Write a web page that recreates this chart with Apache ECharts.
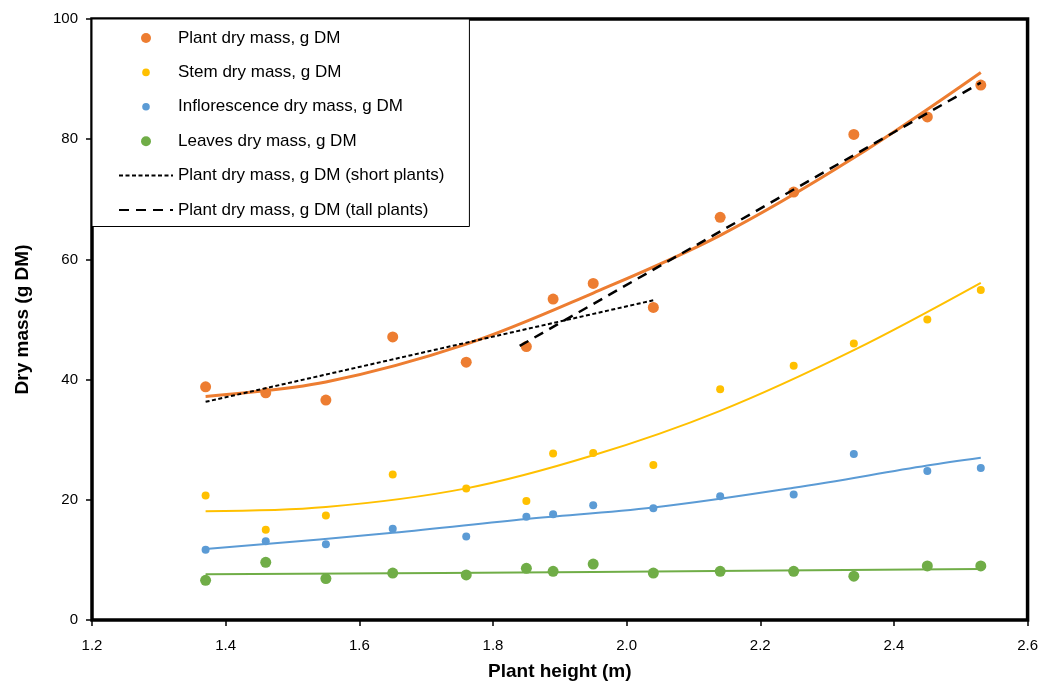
<!DOCTYPE html>
<html>
<head>
<meta charset="utf-8">
<script src="https://cdn.jsdelivr.net/npm/echarts@6/dist/echarts.min.js"></script>
<style>
  html, body { margin: 0; padding: 0; background: #fff; }
  #chart { width: 1041px; height: 686px; }
</style>
</head>
<body>
<div id="chart"></div>
<script>
// measured points (x = plant height in m)
const heights = [1.37, 1.46, 1.55, 1.65, 1.76, 1.85, 1.89, 1.95, 2.04, 2.14, 2.25, 2.34, 2.45, 2.53];
const plantDM = [38.8, 37.8, 36.6, 47.1, 42.9, 45.5, 53.4, 56.0, 52.0, 67.0, 71.2, 80.8, 83.7, 89.0];
const stemDM = [20.7, 15.0, 17.4, 24.2, 21.9, 19.8, 27.7, 27.8, 25.8, 38.4, 42.3, 46.0, 50.0, 54.9];
const inflDM = [11.7, 13.1, 12.6, 15.2, 13.9, 17.2, 17.6, 19.1, 18.6, 20.6, 20.9, 27.6, 24.8, 25.3];
const leavesDM = [6.6, 9.6, 6.9, 7.8, 7.5, 8.6, 8.1, 9.3, 7.8, 8.1, 8.1, 7.3, 9.0, 9.0];

// trend lines
const plantTrendX = [1.37, 1.55, 1.76, 1.95, 2.14, 2.34, 2.53];
const plantTrendY = [37.2, 39.6, 45.9, 54.4, 64.0, 76.9, 91.1];
const stemTrendX = [1.37, 1.55, 1.76, 1.95, 2.14, 2.34, 2.53];
const stemTrendY = [18.1, 18.8, 21.9, 27.4, 34.8, 44.9, 56.1];
const inflTrendX = [1.37, 1.65, 1.85, 2.04, 2.25, 2.45, 2.53];
const inflTrendY = [11.8, 14.5, 16.8, 18.7, 22.0, 25.7, 27.0];
const leavesTrendX = [1.37, 1.95, 2.53];
const leavesTrendY = [7.6, 8.0, 8.5];
const shortX = [1.37, 2.04];
const shortY = [36.3, 53.2];
const tallX = [1.84, 2.53];
const tallY = [45.6, 89.4];

const names = [
  'Plant dry mass, g DM',
  'Stem dry mass, g DM',
  'Inflorescence dry mass, g DM',
  'Leaves dry mass, g DM',
  'Plant dry mass, g DM (short plants)',
  'Plant dry mass, g DM (tall plants)'
];

const ORANGE = '#ED7D31', YELLOW = '#FFC000', BLUE = '#5B9BD5', GREEN = '#70AD47';
const FONT = '"Liberation Sans", Arial, sans-serif';

// legend circles: big one fills the box, small one padded by the two moveTo corners
const BIG_DOT = 'path://M0,0 M10,10 M10,5 A5,5 0 1 1 0,5 A5,5 0 1 1 10,5 Z';
const SMALL_DOT = 'path://M0,0 M10,10 M8.8,5 A3.8,3.8 0 1 1 1.2,5 A3.8,3.8 0 1 1 8.8,5 Z';

function pairs(xs, ys) {
  return xs.map((x, i) => [x, ys[i]]);
}

function dots(name, ys, color, size) {
  return {
    name: name,
    type: 'scatter',
    symbol: 'circle',
    symbolSize: size,
    itemStyle: { color: color, opacity: 1 },
    z: 2,
    data: pairs(heights, ys)
  };
}

function trend(name, xs, ys, color, width, type) {
  return {
    name: name,
    type: 'line',
    symbol: 'none',
    smooth: type ? false : 0.35,
    lineStyle: { color: color, width: width, type: type || 'solid' },
    itemStyle: { color: color },
    z: 3,
    data: pairs(xs, ys)
  };
}

const myChart = echarts.init(document.getElementById('chart'));

let option = {
  animation: false,
  backgroundColor: '#fff',
  grid: {
    left: 92, right: 12, top: 19, bottom: 65,
    show: true,
    borderColor: '#000',
    borderWidth: 3.5
  },
  legend: {
    data: [
      { name: names[0], icon: BIG_DOT },
      { name: names[1], icon: SMALL_DOT },
      { name: names[2], icon: SMALL_DOT },
      { name: names[3], icon: BIG_DOT },
      { name: names[4], itemStyle: { opacity: 0 } },
      { name: names[5], itemStyle: { opacity: 0 } }
    ],
    orient: 'vertical',
    left: 92,
    top: 19,
    padding: [10.5, 25, 8, 26],
    itemWidth: 54,
    itemHeight: 10,
    itemGap: 17.4,
    backgroundColor: '#fff',
    borderColor: '#000',
    borderWidth: 1,
    selectedMode: false,
    textStyle: { fontFamily: FONT, fontSize: 17, color: '#000', lineHeight: 17 }
  },
  xAxis: {
    type: 'value',
    min: 1.2,
    max: 2.6,
    interval: 0.2,
    name: 'Plant height (m)',
    nameLocation: 'middle',
    nameGap: 42,
    nameTextStyle: { fontFamily: FONT, fontSize: 19, fontWeight: 'bold', color: '#000' },
    axisLine: { show: false },
    axisTick: { show: true, length: 6, lineStyle: { color: '#000', width: 1.5 } },
    axisLabel: {
      fontFamily: FONT, fontSize: 15, color: '#000', margin: 18,
      formatter: v => v.toFixed(1)
    },
    splitLine: { show: false }
  },
  yAxis: {
    type: 'value',
    min: 0,
    max: 100,
    interval: 20,
    name: 'Dry mass (g DM)',
    nameLocation: 'middle',
    nameGap: 60,
    nameTextStyle: { fontFamily: FONT, fontSize: 19, fontWeight: 'bold', color: '#000' },
    axisLine: { show: false },
    axisTick: { show: true, length: 6, lineStyle: { color: '#000', width: 1.5 } },
    axisLabel: { fontFamily: FONT, fontSize: 15, color: '#000', margin: 14 },
    splitLine: { show: false }
  },
  series: [
    dots(names[0], plantDM, ORANGE, 11),
    dots(names[1], stemDM, YELLOW, 8),
    dots(names[2], inflDM, BLUE, 8),
    dots(names[3], leavesDM, GREEN, 11),
    trend('plant trend', plantTrendX, plantTrendY, ORANGE, 3),
    trend('stem trend', stemTrendX, stemTrendY, YELLOW, 2),
    trend('inflorescence trend', inflTrendX, inflTrendY, BLUE, 2),
    trend('leaves trend', leavesTrendX, leavesTrendY, GREEN, 2),
    trend(names[4], shortX, shortY, '#000', 2, [4, 2.5]),
    trend(names[5], tallX, tallY, '#000', 2.5, [10, 7])
  ]
};

myChart.setOption(option);
</script>
</body>
</html>
